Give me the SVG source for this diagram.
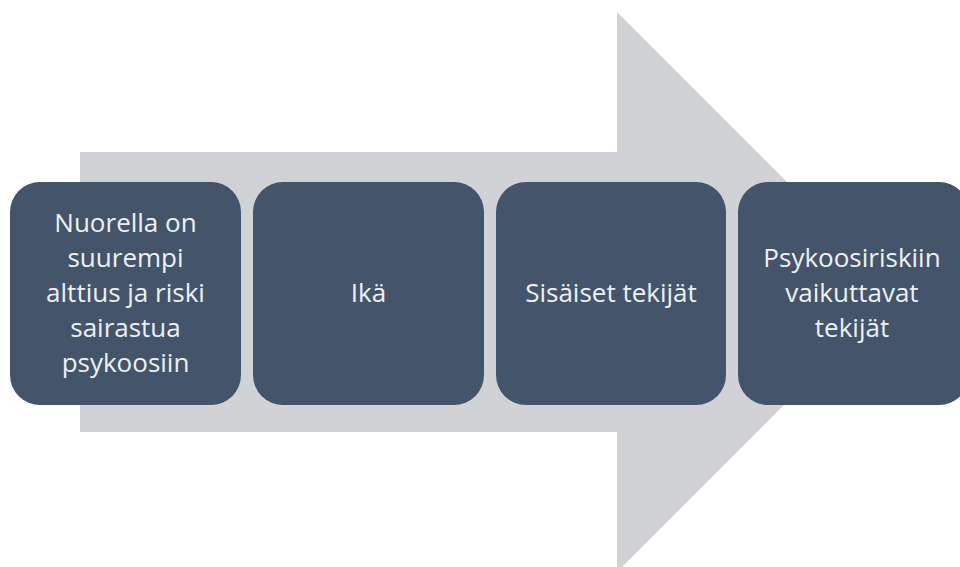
<svg xmlns="http://www.w3.org/2000/svg" width="960" height="567" viewBox="0 0 960 567">
<style>
.box{fill:#44546A;}
.t{font-family:"Open Sans","Liberation Sans",sans-serif;font-size:26px;fill:#EEF0F3;text-anchor:middle;}
</style>
<rect width="960" height="567" fill="#FFFFFF"/>
<g id="arrow">
<polygon points="80,152 617,152 617,12 897,292 617,572 617,432 80,432" fill="#D1D2D6"/>
</g>
<g id="connectors"></g>
<g id="node1">
<rect class="box" x="10" y="182" width="231" height="223" rx="30"/>
<text class="t"><tspan x="125.5" y="232">Nuorella on</tspan><tspan x="125.5" y="267">suurempi</tspan><tspan x="125.5" y="302">alttius ja riski</tspan><tspan x="125.5" y="337">sairastua</tspan><tspan x="125.5" y="372">psykoosiin</tspan></text>
</g>
<g id="node2">
<rect class="box" x="253" y="182" width="231" height="223" rx="30"/>
<text class="t" x="368.5" y="302">Ikä</text>
</g>
<g id="node3">
<rect class="box" x="496" y="182" width="230" height="223" rx="30"/>
<text class="t" x="611" y="302">Sisäiset tekijät</text>
</g>
<g id="node4">
<rect class="box" x="738" y="182" width="231" height="223" rx="30"/>
<text class="t"><tspan x="852" y="267">Psykoosiriskiin</tspan><tspan x="852" y="302">vaikuttavat</tspan><tspan x="852" y="337">tekijät</tspan></text>
</g>
</svg>
